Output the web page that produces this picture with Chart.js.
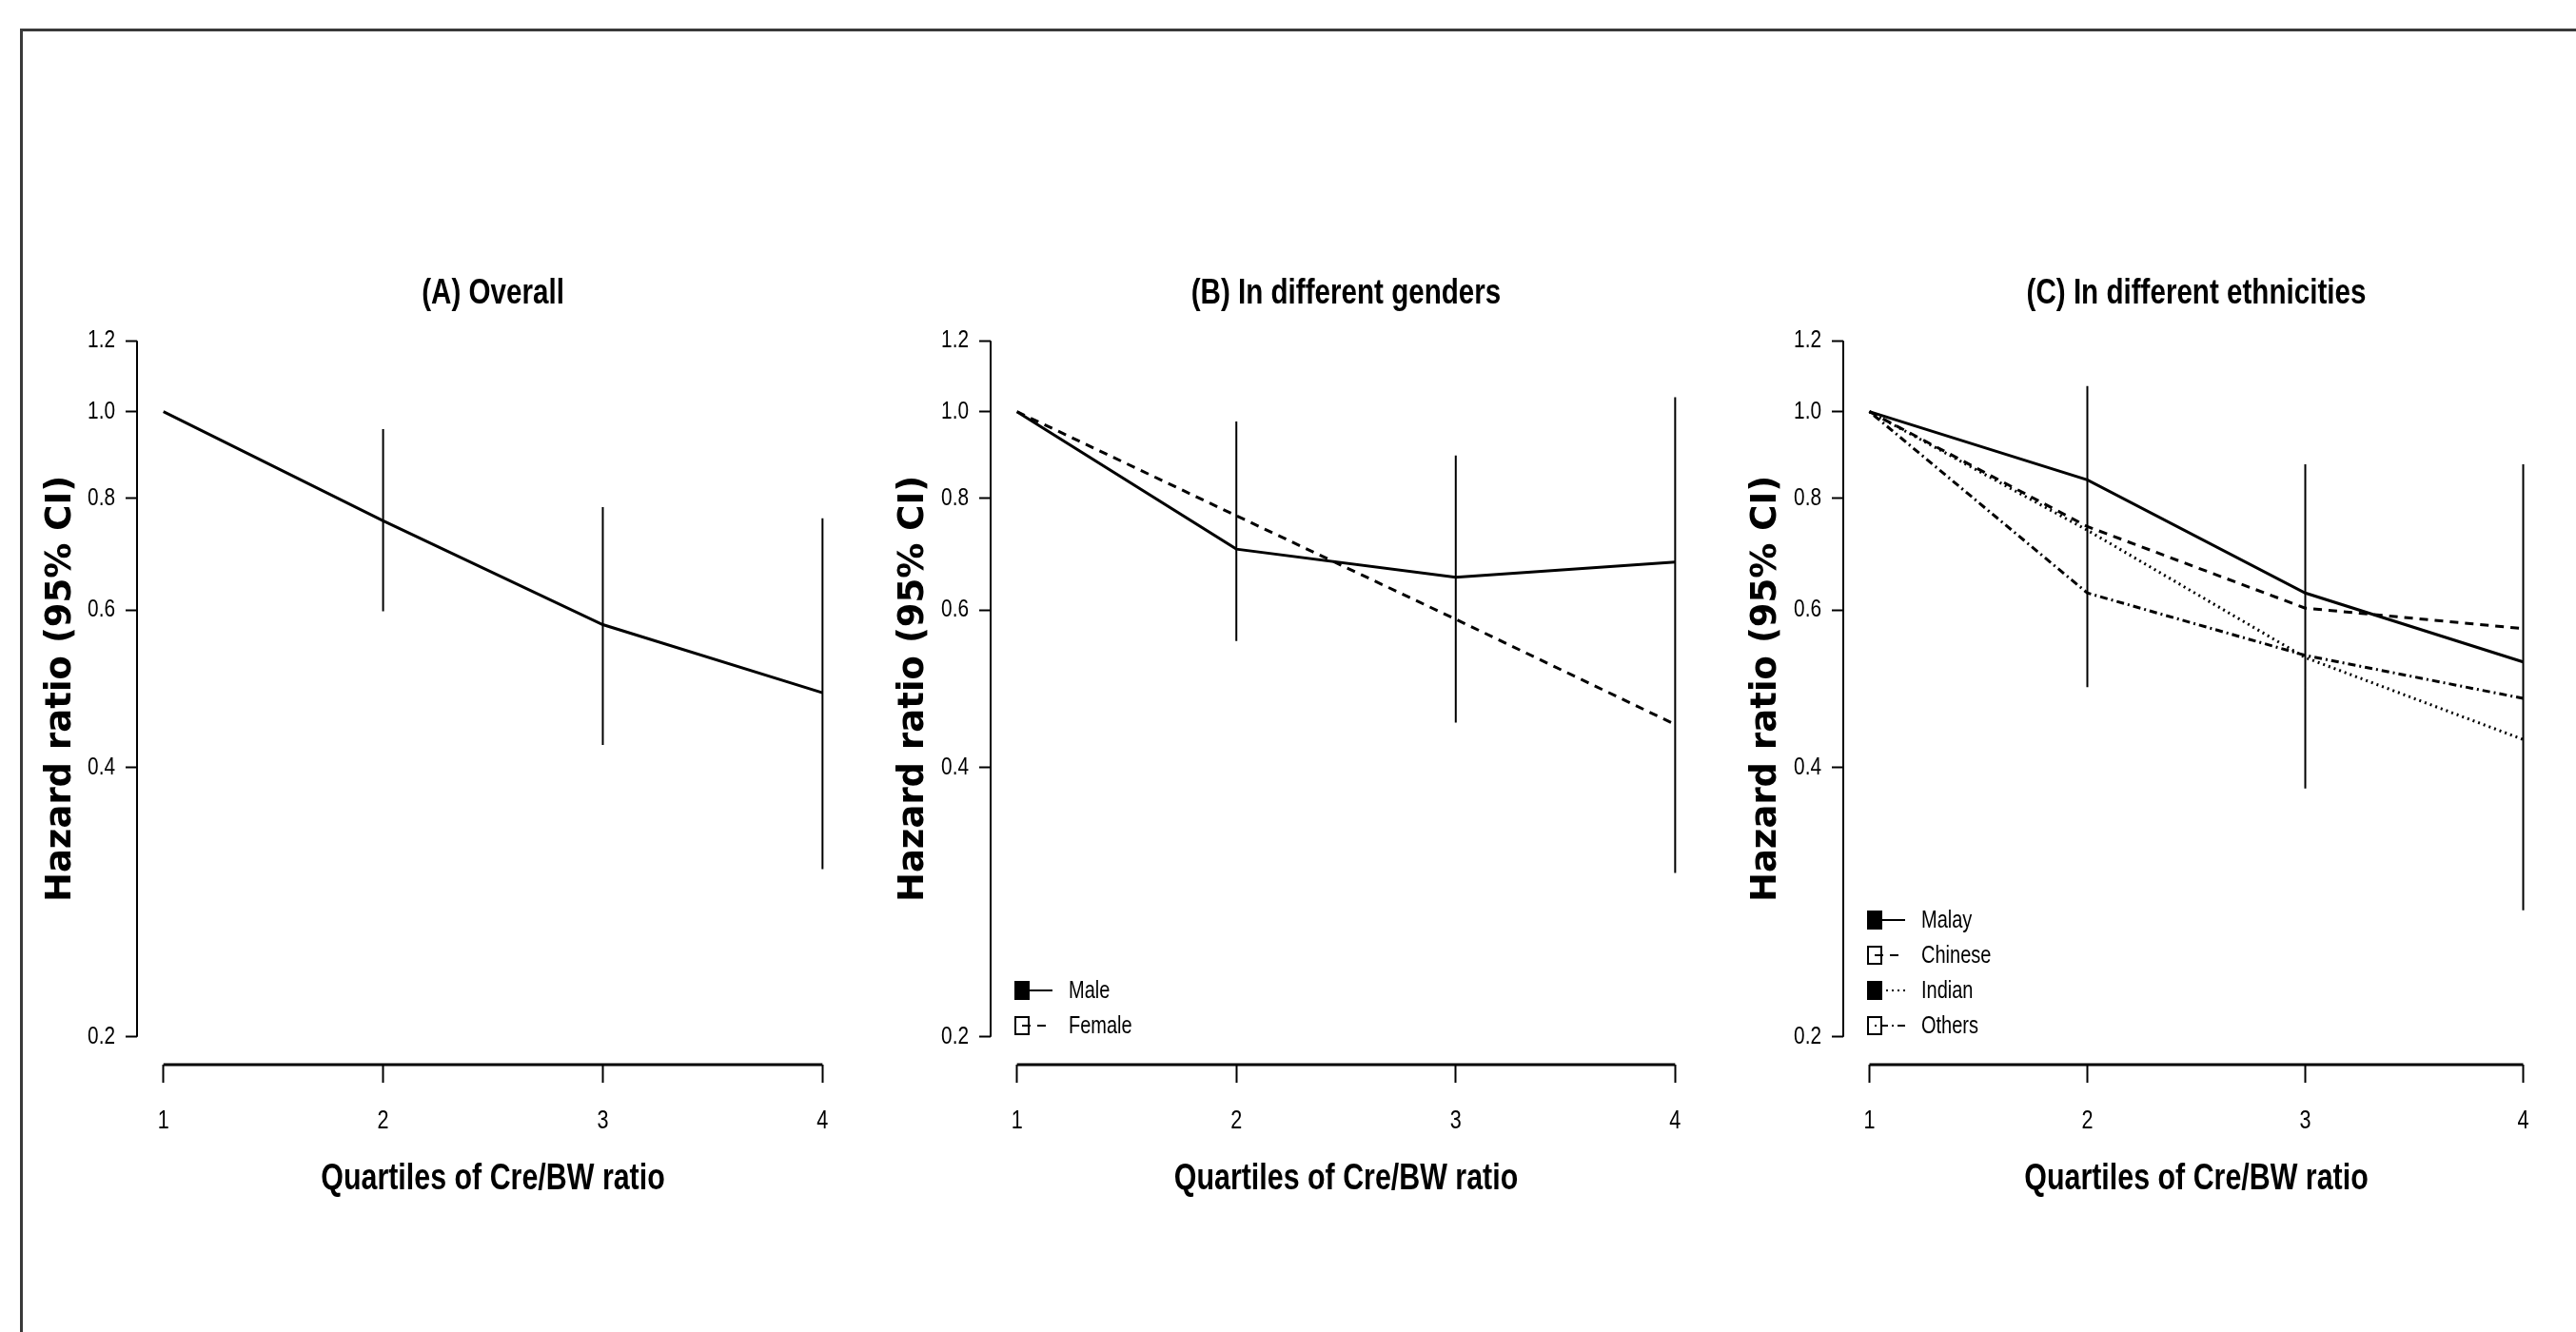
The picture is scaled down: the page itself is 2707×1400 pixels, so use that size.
<!DOCTYPE html>
<html>
<head>
<meta charset="utf-8">
<title>Hazard ratio by quartiles of Cre/BW ratio</title>
<script src="https://cdn.jsdelivr.net/npm/chart.js@4.4.0/dist/chart.umd.min.js"></script>
<style>
  html, body { margin: 0; padding: 0; background: #fff; }
  #page { position: relative; width: 2707px; height: 1400px; overflow: hidden; }
  #frame {
    position: absolute; left: 21px; top: 30px; width: 2720px; height: 1420px;
    border-top: 3px solid #3a3a3a; border-left: 3px solid #3a3a3a;
  }
  canvas { position: absolute; top: 0; }
</style>
</head>
<body>
<div id="page">
  <div id="frame"></div>
  <canvas id="chartA" width="896" height="1400" style="left:0px"></canvas>
  <canvas id="chartB" width="896" height="1400" style="left:896px"></canvas>
  <canvas id="chartC" width="896" height="1400" style="left:1792px"></canvas>
</div>
<script>
// x categories and y ticks
const quartiles = [1, 2, 3, 4];
const yTicks = [0.2, 0.4, 0.6, 0.8, 1.0, 1.2];

// (A) overall
const overallHR = [1.0, 0.755, 0.578, 0.485];
const overallLow = [null, 0.598, 0.424, 0.308];
const overallHigh = [null, 0.956, 0.782, 0.760];

// (B) genders
const maleHR = [1.0, 0.702, 0.653, 0.679];
const femaleHR = [1.0, 0.765, 0.586, 0.447];
const genderLow = [null, 0.554, 0.449, 0.305];
const genderHigh = [null, 0.975, 0.893, 1.038];

// (C) ethnicities
const malayHR = [1.0, 0.839, 0.627, 0.525];
const chineseHR = [1.0, 0.744, 0.603, 0.572];
const indianHR = [1.0, 0.737, 0.531, 0.430];
const othersHR = [1.0, 0.627, 0.534, 0.478];
const ethnicLow = [null, 0.492, 0.379, 0.277];
const ethnicHigh = [null, 1.068, 0.873, 0.873];

const NARROW = "'Liberation Sans', Arial, sans-serif";
const WIDE = "'DejaVu Sans', Verdana, sans-serif";
const SOLID = [], DASHED = [9, 7], DOTTED = [2, 4], DOTDASH = [2, 4, 8, 4];
const CONDENSE = 0.8;   // the original figure is squeezed sideways, so is its text

// vertical CI bars as one line dataset broken by nulls
function ciSegments(lo, hi) {
    const pts = [];
    quartiles.forEach((q, i) => {
        if (lo[i] == null) return;
        pts.push({x: q, y: lo[i]}, {x: q, y: hi[i]}, {x: q, y: null});
    });
    return pts;
}

// draw horizontal text narrower (no narrow font installed); rotated y title is left alone
const condensedText = {
    id: 'condensedText',
    beforeDraw(chart) {
        const ctx = chart.ctx;
        if (ctx._condensed) return;
        const fill = ctx.fillText.bind(ctx);
        ctx.fillText = function (text, x, y, maxWidth) {
            if (ctx.font.indexOf('DejaVu') >= 0) {
                return maxWidth === undefined ? fill(text, x, y) : fill(text, x, y, maxWidth);
            }
            ctx.save();
            ctx.translate(x, y);
            ctx.scale(CONDENSE, 1);
            if (maxWidth === undefined) fill(text, 0, 0);
            else fill(text, 0, 0, maxWidth / CONDENSE);
            ctx.restore();
        };
        ctx._condensed = true;
    }
};

// R style axis lines, only from first to last tick
const rAxes = {
    id: 'rAxes',
    afterDraw(chart) {
        const {ctx, chartArea, scales: {x, y}} = chart;
        ctx.save();
        ctx.strokeStyle = '#000';
        ctx.lineWidth = 2;
        ctx.beginPath();
        ctx.moveTo(chartArea.left, y.getPixelForValue(yTicks[0]));
        ctx.lineTo(chartArea.left, y.getPixelForValue(yTicks[yTicks.length - 1]));
        ctx.stroke();
        ctx.lineWidth = 3;
        ctx.beginPath();
        ctx.moveTo(x.getPixelForValue(quartiles[0]), chartArea.bottom);
        ctx.lineTo(x.getPixelForValue(quartiles[quartiles.length - 1]), chartArea.bottom);
        ctx.stroke();
        ctx.restore();
    }
};

// legend: square symbol + line sample + label, bottom left of the plot
const rLegend = {
    id: 'rLegend',
    afterDraw(chart, args, opts) {
        if (!opts.display) return;
        const items = chart.data.datasets.filter(d => d.label);
        const {ctx, chartArea} = chart;
        const x0 = chartArea.left + 25;
        ctx.save();
        ctx.font = '25px ' + NARROW;
        ctx.textBaseline = 'middle';
        ctx.textAlign = 'left';
        ctx.fillStyle = '#000';
        items.forEach((d, i) => {
            const yy = chartArea.bottom - 41 - (items.length - 1 - i) * 37;
            ctx.strokeStyle = '#000';
            ctx.lineWidth = 2;
            ctx.setLineDash(d.borderDash || []);
            ctx.beginPath();
            ctx.moveTo(x0 + 8, yy);
            ctx.lineTo(x0 + 40, yy);
            ctx.stroke();
            ctx.setLineDash([]);
            if (d.markFilled) {
                ctx.fillRect(x0, yy - 10, 16, 20);
            } else {
                ctx.strokeRect(x0 + 1, yy - 9, 14, 18);
            }
            ctx.fillText(d.label, x0 + 57, yy + 1);
        });
        ctx.restore();
    }
};

function makePanel(id, title, series, low, high, yWidth, padRight) {
    const datasets = series.map(s => ({
        label: s.label,
        data: quartiles.map((q, i) => ({x: q, y: s.values[i]})),
        borderColor: '#000',
        borderWidth: 3,
        borderDash: s.dash,
        markFilled: s.filled,
        pointRadius: 0,
        tension: 0
    }));
    datasets.push({
        data: ciSegments(low, high),
        borderColor: '#000',
        borderWidth: 2,
        pointRadius: 0,
        spanGaps: false
    });

    return new Chart(document.getElementById(id), {
        type: 'line',
        data: { datasets: datasets },
        plugins: [condensedText, rAxes, rLegend],
        options: {
            responsive: false,
            animation: false,
            layout: { padding: { top: 290, left: 0, right: padRight, bottom: 0 } },
            plugins: {
                legend: { display: false },
                tooltip: { enabled: false },
                rLegend: { display: series.length > 1 },
                title: {
                    display: true,
                    text: title,
                    fullSize: false,
                    color: '#000',
                    font: { family: NARROW, size: 37, weight: 'bold', lineHeight: 1 },
                    padding: { top: 0, bottom: 2 }
                }
            },
            scales: {
                x: {
                    type: 'linear',
                    min: 0.88,
                    max: 4.12,
                    afterBuildTicks: sc => { sc.ticks = quartiles.map(v => ({value: v})); },
                    afterFit: sc => { sc.height = 281; },
                    border: { display: false },
                    grid: { drawOnChartArea: false, drawTicks: true, tickLength: 19, tickWidth: 2, tickColor: '#000' },
                    ticks: {
                        autoSkip: false, maxRotation: 0, padding: 24, color: '#000',
                        font: { family: NARROW, size: 27, lineHeight: 1.2 },
                        callback: v => String(v)
                    },
                    title: {
                        display: true,
                        text: 'Quartiles of Cre/BW ratio',
                        color: '#000',
                        font: { family: NARROW, size: 38, weight: 'bold', lineHeight: 1 },
                        padding: { top: 0, bottom: 141 }
                    }
                },
                y: {
                    type: 'logarithmic',
                    min: 0.1862,
                    max: 1.289,
                    afterBuildTicks: sc => { sc.ticks = yTicks.map(v => ({value: v})); },
                    afterFit: sc => { sc.width = yWidth; },
                    border: { display: false },
                    grid: { drawOnChartArea: false, drawTicks: true, tickLength: 12, tickWidth: 2, tickColor: '#000' },
                    ticks: {
                        autoSkip: false, padding: 11, color: '#000',
                        font: { family: NARROW, size: 26 },
                        callback: v => Number(v).toFixed(1)
                    },
                    title: {
                        display: true,
                        text: 'Hazard ratio (95% CI)',
                        color: '#000',
                        font: { family: WIDE, size: 37, weight: 'bold', lineHeight: 1.2 },
                        padding: { top: 42, bottom: 0 }
                    }
                }
            }
        }
    });
}

makePanel('chartA', '(A) Overall',
    [{label: '', values: overallHR, dash: SOLID, filled: true}],
    overallLow, overallHigh, 144, 3);

makePanel('chartB', '(B) In different genders', [
    {label: 'Male', values: maleHR, dash: SOLID, filled: true},
    {label: 'Female', values: femaleHR, dash: DASHED, filled: false}
], genderLow, genderHigh, 145, 2);

makePanel('chartC', '(C) In different ethnicities', [
    {label: 'Malay', values: malayHR, dash: SOLID, filled: true},
    {label: 'Chinese', values: chineseHR, dash: DASHED, filled: false},
    {label: 'Indian', values: indianHR, dash: DOTTED, filled: true},
    {label: 'Others', values: othersHR, dash: DOTDASH, filled: false}
], ethnicLow, ethnicHigh, 145, 9);
</script>
</body>
</html>
